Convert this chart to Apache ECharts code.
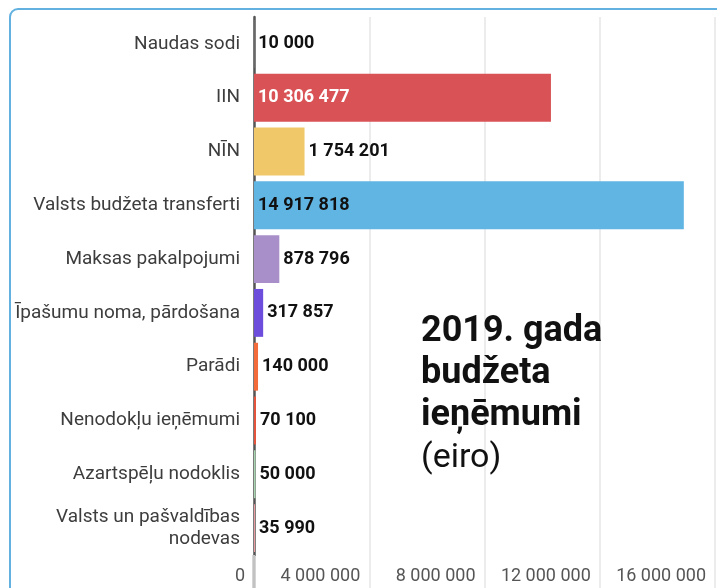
<!DOCTYPE html>
<html>
<head>
<meta charset="utf-8">
<script src="https://cdn.jsdelivr.net/npm/echarts@6/dist/echarts.min.js"></script>
<style>
  html, body { margin: 0; padding: 0; background: #fff; }
  #chart { width: 717px; height: 588px; }
</style>
</head>
<body>
<div id="chart"></div>
<script>
// dati
var categories = [
    'Naudas sodi',
    'IIN',
    'NĪN',
    'Valsts budžeta transferti',
    'Maksas pakalpojumi',
    'Īpašumu noma, pārdošana',
    'Parādi',
    'Nenodokļu ieņēmumi',
    'Azartspēļu nodoklis',
    'Valsts un pašvaldības\nnodevas'
];
var values = [10000, 10306477, 1754201, 14917818, 878796, 317857, 140000, 70100, 50000, 35990];
var barColors = ['#9a9a9a', '#d95356', '#f0c86a', '#60b5e3', '#a98fc9', '#6d4ddc', '#f36b3b', '#e4533c', '#a9d6b1', '#e99ba1'];
var tickValues = [0, 4000000, 8000000, 12000000, 16000000];

// skaitļa formāts ar atstarpēm
function fmt(v) {
    return String(v).replace(/\B(?=(\d{3})+(?!\d))/g, ' ');
}

var chart = echarts.init(document.getElementById('chart'));

var data = values.map(function (v, i) {
    var item = { value: v, itemStyle: { color: barColors[i] } };
    if (i === 1) {
        item.label = { position: 'insideLeft', color: '#fff', distance: 4 };
    }
    if (i === 3) {
        item.label = { position: 'insideLeft', color: '#111', distance: 4 };
    }
    return item;
});

var option = {
    animation: false,
    title: {
        left: 421,
        top: 311,
        padding: 0,
        text: '{b|2019. gada}\n{b|budžeta}\n{b|ieņēmumi}\n{r|(eiro)}',
        textStyle: {
            rich: {
                b: { fontFamily: 'Roboto', fontSize: 36, fontWeight: 'bold', color: '#111', lineHeight: 42 },
                r: { fontFamily: 'Roboto', fontSize: 34, fontWeight: 'normal', color: '#111', lineHeight: 42 }
            }
        }
    },
    grid: { left: 254, right: 2, top: 17, bottom: 33, containLabel: false },
    xAxis: {
        type: 'value',
        min: tickValues[0],
        max: tickValues[tickValues.length - 1],
        interval: tickValues[1] - tickValues[0],
        axisLine: { show: false },
        axisTick: { show: true, length: 33, lineStyle: { color: '#e6e6e6', width: 1.5 } },
        splitLine: { show: true, lineStyle: { color: '#e6e6e6', width: 1.5 } },
        axisLabel: {
            margin: 12,
            align: 'right',
            padding: [0, 9, 0, 0],
            fontFamily: 'Roboto',
            fontSize: 18,
            color: '#555',
            formatter: function (v) { return fmt(v); }
        }
    },
    yAxis: {
        type: 'category',
        inverse: true,
        data: categories,
        axisLine: { show: true, lineStyle: { color: '#555', width: 2.5 } },
        axisTick: { show: false },
        axisLabel: {
            margin: 14,
            fontFamily: 'Roboto',
            fontSize: 19,
            color: '#3d3d3d',
            lineHeight: 22
        }
    },
    series: [{
        type: 'bar',
        data: data,
        barCategoryGap: '11%',
        label: {
            show: true,
            position: 'right',
            distance: 4,
            fontFamily: 'Roboto',
            fontSize: 18,
            fontWeight: 'bold',
            color: '#111',
            formatter: function (p) { return fmt(p.value); }
        }
    }]
};

chart.setOption(option);

// rāmis un ass turpinājums zem grafika
var x0 = chart.convertToPixel({ xAxisIndex: 0 }, 0);
chart.setOption({
    graphic: [
        {
            type: 'rect',
            shape: { x: 10, y: 9, width: 720, height: 600, r: 8 },
            style: { fill: 'none', stroke: '#62b1e0', lineWidth: 2 },
            silent: true
        },
        {
            type: 'line',
            shape: { x1: x0, y1: 555, x2: x0, y2: 588 },
            style: { stroke: '#555', lineWidth: 2.5 },
            silent: true
        }
    ]
});
</script>
</body>
</html>
